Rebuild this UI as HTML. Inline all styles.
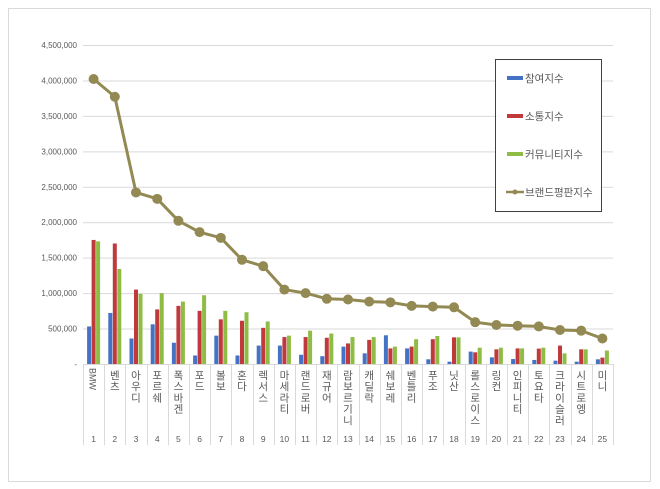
<!DOCTYPE html>
<html><head><meta charset="utf-8"><style>
body{margin:0;background:#fff;}
svg{display:block;font-family:"Liberation Sans","Noto Sans CJK KR",sans-serif;}
</style></head><body>
<svg id="chart" width="660" height="489">
<rect x="8.5" y="8.5" width="642" height="473" fill="#fff" stroke="#d9d9d9"/>
<g id="grid"></g><g id="bars"></g><g id="line"></g><g id="xaxis"></g><g id="yaxis"></g>
<g>
<rect x="495.5" y="59.5" width="106" height="152" fill="#fff" stroke="#404040"/>
<rect x="507" y="76" width="16" height="4" fill="#4472c4"/>
<text x="525" y="82" font-size="10.5" fill="#595959">참여지수</text>
<rect x="507" y="114" width="16" height="4" fill="#c0393b"/>
<text x="525" y="120" font-size="10.5" fill="#595959">소통지수</text>
<rect x="507" y="152" width="16" height="4" fill="#8fbc45"/>
<text x="525" y="158" font-size="10.5" fill="#595959">커뮤니티지수</text>
<line x1="506" y1="192" x2="524" y2="192" stroke="#938953" stroke-width="2.5"/>
<circle cx="515" cy="192" r="2.5" fill="#938953"/>
<text x="525" y="196" font-size="10.5" fill="#595959">브랜드평판지수</text>
</g>
</svg>
<script>
const categories=["BMW","벤츠","아우디","포르쉐","폭스바겐","포드","볼보","혼다","렉서스","마세라티","랜드로버","재규어","람보르기니","캐딜락","쉐보레","벤틀리","푸조","닛산","롤스로이스","링컨","인피니티","토요타","크라이슬러","시트로엥","미니"];
const participation=[530000,720000,360000,560000,300000,120000,400000,120000,260000,260000,130000,110000,245000,150000,405000,220000,66000,33000,175000,94000,70000,57000,47000,33000,66000];
const communication=[1750000,1700000,1050000,770000,820000,750000,630000,610000,510000,380000,380000,370000,290000,340000,220000,245000,350000,376000,165000,207000,220000,217000,260000,207000,90000];
const community=[1730000,1340000,990000,1000000,880000,970000,750000,730000,600000,400000,470000,430000,380000,380000,245000,350000,395000,376000,230000,230000,220000,230000,150000,207000,190000];
const brandIndex=[4020000,3770000,2420000,2330000,2020000,1860000,1780000,1470000,1380000,1050000,1000000,920000,910000,880000,870000,820000,810000,800000,590000,550000,540000,530000,480000,470000,360000];
const yTicks=[0,500000,1000000,1500000,2000000,2500000,3000000,3500000,4000000,4500000];
const yTickLabels=["-","500,000","1,000,000","1,500,000","2,000,000","2,500,000","3,000,000","3,500,000","4,000,000","4,500,000"];

const NS="http://www.w3.org/2000/svg";
const X0=83,X1=613,Y0=364,YT=45,YMAX=4500000;
const bw=(X1-X0)/categories.length;
const y=v=>Y0-(v/YMAX)*(Y0-YT);
const xc=i=>X0+bw*(i+0.5);
function mk(tag,attrs,parent){const e=document.createElementNS(NS,tag);for(const k in attrs)e.setAttribute(k,attrs[k]);parent.appendChild(e);return e;}
const grid=document.getElementById('grid'),yax=document.getElementById('yaxis');
yTicks.forEach((t,i)=>{
  if(t>0){const l=mk('line',{x1:X0,x2:X1,y1:y(t)+0.5,y2:y(t)+0.5,stroke:'#d9d9d9'},grid);
  
  }
  const tx=mk('text',{x:77,y:y(t)+3,'font-size':'8','text-anchor':'end',fill:'#595959'},yax);
  tx.textContent=yTickLabels[i];
  
  
});
const bars=document.getElementById('bars');
const series=[[participation,'#4472c4','participation'],[communication,'#c0393b','communication'],[community,'#8fbc45','community']];
categories.forEach((c,i)=>{
  series.forEach((s,j)=>{
    const v=s[0][i];
    const r=mk('rect',{x:xc(i)-6.5+j*4.5,y:y(v),width:4,height:Y0-y(v),fill:s[1]},bars);
    
    
  });
});
const lg=document.getElementById('line');
const pts=brandIndex.map((v,i)=>xc(i)+','+y(v)).join(' ');
const pl=mk('polyline',{points:pts,fill:'none',stroke:'#938953','stroke-width':3,'stroke-linejoin':'round'},lg);


brandIndex.forEach((v,i)=>{
  const c=mk('circle',{cx:xc(i),cy:y(v),r:5,fill:'#938953'},lg);
  
  
});
const xa=document.getElementById('xaxis');
mk('line',{x1:X0,x2:X1,y1:Y0+0.5,y2:Y0+0.5,stroke:'#d9d9d9'},xa);
for(let i=0;i<=categories.length;i++){
  const xx=Math.round(X0+bw*i)+0.5;
  mk('line',{x1:xx,x2:xx,y1:Y0,y2:445,stroke:'#d9d9d9'},xa);
}
categories.forEach((c,i)=>{
  const g=mk('text',{'font-size':'10.5',fill:'#595959','text-anchor':'middle'},xa);
  
  
  if(/^[A-Za-z]+$/.test(c)){
    g.setAttribute('transform','translate('+(xc(i)-4)+',368) rotate(90)');
    g.setAttribute('text-anchor','start');g.setAttribute('font-size','9');
    g.textContent=c;
  } else {
    [...c].forEach((ch,k)=>{const t=mk('tspan',{x:xc(i),y:379+k*11.2},g);t.textContent=ch;});
  }
  const n=mk('text',{x:xc(i),y:442,'font-size':'8.5',fill:'#595959','text-anchor':'middle'},xa);
  n.textContent=String(i+1);
  
  
});
</script>
</body></html>
